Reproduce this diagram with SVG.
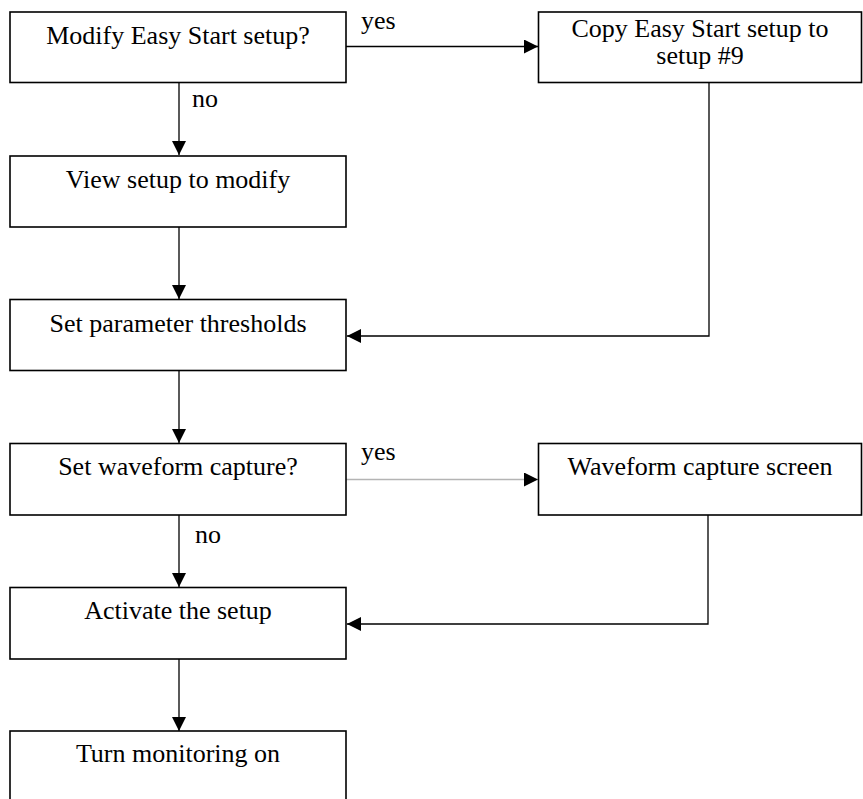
<svg xmlns="http://www.w3.org/2000/svg" width="863" height="799" viewBox="0 0 863 799">
<style>
.box{fill:#fff;stroke:#000;stroke-width:1.6}
.t{font-family:"Liberation Serif","Times New Roman",serif;font-size:26px;fill:#000}
.c{text-anchor:middle}
.ln{fill:none;stroke:#000;stroke-width:1.3}
.gray{stroke:#b4b4b4}
</style>
<defs>
<marker id="ah" viewBox="0 0 14 14" refX="14" refY="7" markerWidth="14" markerHeight="14" markerUnits="userSpaceOnUse" orient="auto">
<path d="M0,0 L14,7 L0,14 Z" fill="#000"/>
</marker>
</defs>
<rect width="863" height="799" fill="#fff"/>
<g id="connectors">
<line class="ln" x1="179" y1="82" x2="179" y2="155" marker-end="url(#ah)"/>
<line class="ln" x1="179" y1="227" x2="179" y2="299" marker-end="url(#ah)"/>
<line class="ln" x1="179" y1="371" x2="179" y2="443" marker-end="url(#ah)"/>
<line class="ln" x1="179" y1="515" x2="179" y2="587" marker-end="url(#ah)"/>
<line class="ln" x1="179" y1="659" x2="179" y2="731" marker-end="url(#ah)"/>
<line class="ln" x1="346" y1="46.5" x2="538" y2="46.5" marker-end="url(#ah)"/>
<line class="ln gray" x1="346" y1="479.5" x2="538" y2="479.5" marker-end="url(#ah)"/>
<polyline class="ln" points="709,82 709,336 347,336" marker-end="url(#ah)"/>
<polyline class="ln" points="708,515 708,624 347,624" marker-end="url(#ah)"/>
<text class="t" x="192" y="107">no</text>
<text class="t" x="195" y="543">no</text>
<text class="t" x="361" y="29">yes</text>
<text class="t" x="361" y="460">yes</text>
</g>
<g id="n1"><rect class="box" x="10" y="12" width="336" height="70.5"/><text class="t c" x="178" y="43.5">Modify Easy Start setup?</text></g>
<g id="n2"><rect class="box" x="538.5" y="12" width="323" height="70.5"/><text class="t c" x="700" y="37">Copy Easy Start setup to</text><text class="t c" x="700" y="64">setup #9</text></g>
<g id="n3"><rect class="box" x="10" y="156" width="336" height="71"/><text class="t c" x="178" y="187.5">View setup to modify</text></g>
<g id="n4"><rect class="box" x="10" y="299.5" width="336" height="71"/><text class="t c" x="178" y="331.5">Set parameter thresholds</text></g>
<g id="n5"><rect class="box" x="10" y="443.5" width="336" height="71.5"/><text class="t c" x="178" y="475">Set waveform capture?</text></g>
<g id="n6"><rect class="box" x="538.5" y="443.5" width="323" height="71.5"/><text class="t c" x="700" y="475">Waveform capture screen</text></g>
<g id="n7"><rect class="box" x="10" y="587.5" width="336" height="71.5"/><text class="t c" x="178" y="619">Activate the setup</text></g>
<g id="n8"><rect class="box" x="10" y="731" width="336" height="71"/><text class="t c" x="178" y="762">Turn monitoring on</text></g>
</svg>
